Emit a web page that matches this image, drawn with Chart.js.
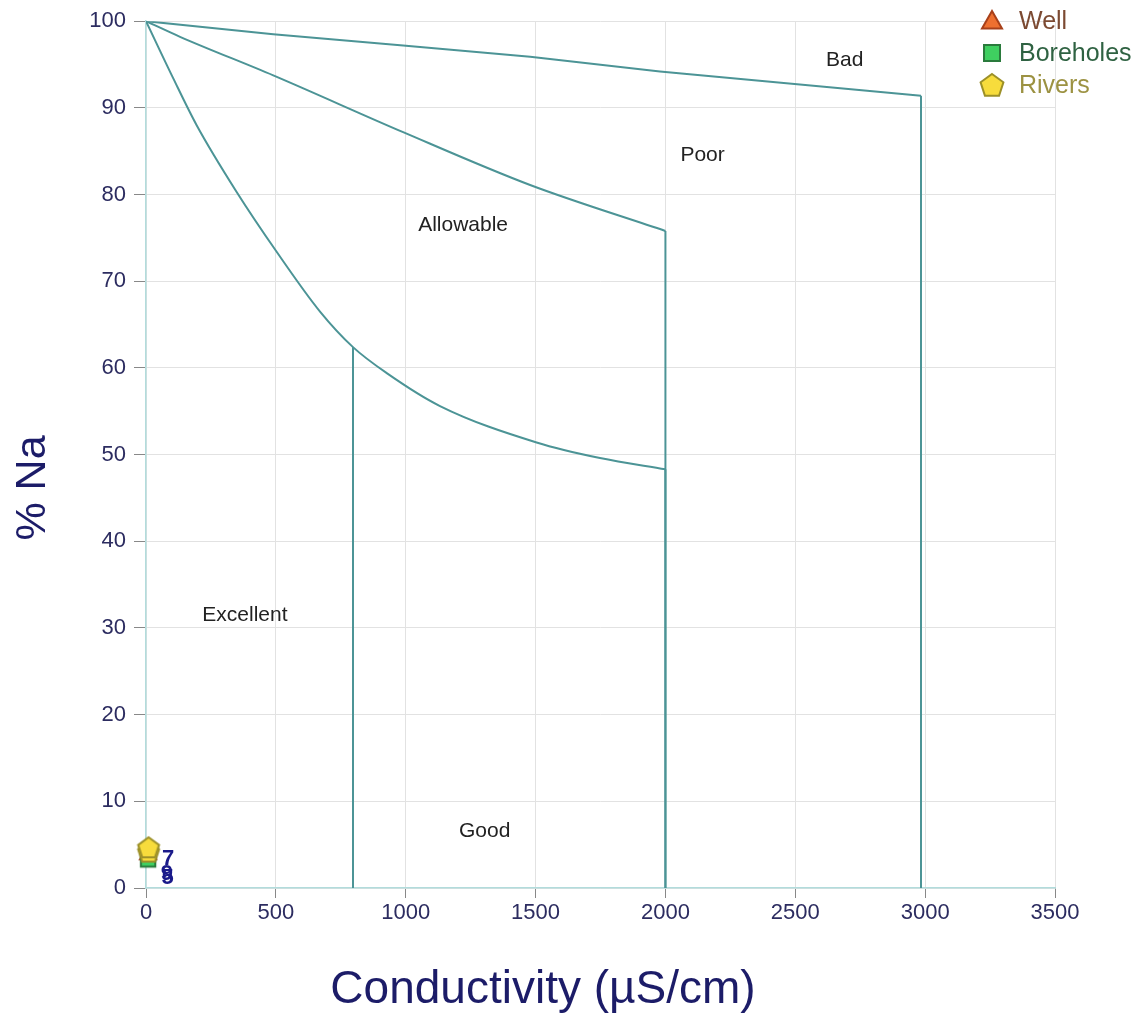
<!DOCTYPE html>
<html><head><meta charset="utf-8">
<script src="https://cdn.jsdelivr.net/npm/chart.js@4.4.1/dist/chart.umd.min.js"></script>
<style>html,body{margin:0;padding:0;background:#fff}#wrap{width:1146px;height:1017px}</style>
</head><body><div id="wrap"><canvas id="c" width="1146" height="1017"></canvas></div>
<script>
// Boundary curves (Conductivity µS/cm vs %Na)
const badX   = [0, 490, 990, 1479, 1979, 2984];
const badY   = [100, 98.5, 97.2, 95.9, 94.2, 91.4];
const poorX  = [0, 131, 490, 990, 1479, 2000];
const poorY  = [100, 98.2, 93.75, 87.2, 81.1, 75.8];
const allowX = [0, 105, 195, 349, 503, 670, 797, 927, 1132, 1504, 1748, 2000];
const allowY = [100, 93.4, 88.0, 80.3, 73.4, 66.5, 62.4, 59.4, 55.6, 51.4, 49.6, 48.3];
const goodX  = [797, 797];
const goodY  = [62.4, 0];
// Samples
const wellX = [8];       const wellY = [4.0];
const boreX = [8];       const boreY = [3.3];
const riverX = [10, 10]; const riverY = [4.2, 4.7];
const sampleLabels = ['7', '9', '5'];
const sampleLabelX = [85, 80, 83];
const sampleLabelY = [3.3, 1.6, 1.2];
// Zone names
const zoneNames = ['Bad', 'Poor', 'Allowable', 'Excellent', 'Good'];
const zoneX = [2690, 2143, 1221, 381, 1304];
const zoneY = [95.5, 84.5, 76.5, 31.5, 6.6];
// Ticks
const xTicks = [0, 500, 1000, 1500, 2000, 2500, 3000, 3500];
const yTicks = [0, 10, 20, 30, 40, 50, 60, 70, 80, 90, 100];
const seriesNames = ['Well', 'Boreholes', 'Rivers'];
const xTitle = 'Conductivity (µS/cm)';
const yTitle = '% Na';

const pts = (xs, ys) => xs.map((x, i) => ({x, y: ys[i]}));
const LINE = '#4c9496';
const FONT = '"Liberation Sans", Arial, sans-serif';

function makeMarker(kind, size, fill, stroke) {
  const c = document.createElement('canvas');
  c.width = size + 4; c.height = size + 4;
  const g = c.getContext('2d');
  const cx = c.width / 2, cy = c.height / 2, r = size / 2;
  g.beginPath();
  if (kind === 'pent') {
    for (let i = 0; i < 5; i++) {
      const a = -Math.PI / 2 + i * 2 * Math.PI / 5;
      const px = cx + r * Math.cos(a), py = cy + r * Math.sin(a) + 1;
      i ? g.lineTo(px, py) : g.moveTo(px, py);
    }
  } else if (kind === 'tri') {
    g.moveTo(cx, cy - r); g.lineTo(cx + r, cy + r * 0.75); g.lineTo(cx - r, cy + r * 0.75);
  } else {
    g.rect(cx - r * 0.8, cy - r * 0.8, r * 1.6, r * 1.6);
  }
  g.closePath();
  g.fillStyle = fill; g.fill();
  g.lineWidth = 2; g.strokeStyle = stroke; g.stroke();
  return c;
}
const mWell = makeMarker('tri', 20, '#ee7030', '#a8401a');
const mBore = makeMarker('sq', 20, '#3fcf60', '#2a7a3c');
const mRiver = makeMarker('pent', 24, '#f7dc3c', '#9c9028');
const sWell = makeMarker('tri', 16, '#ee7030', '#a8401a');
const sBore = makeMarker('sq', 18, '#3fcf60', '#2a7a3c');
const sRiver = makeMarker('pent', 22, '#f7dc3c', '#9c9028');
const legendMarkers = [mWell, mBore, mRiver];
const legendColors = ['#7c4a32', '#2f6242', '#9c9242'];

const lineDs = (data, extra) => Object.assign({type: 'scatter', data, showLine: true, borderColor: LINE, borderWidth: 2, pointRadius: 0, pointHoverRadius: 0, fill: false, order: 5}, extra || {});

const overlay = {
  id: 'overlay',
  afterDatasetsDraw(chart) {
    const {ctx, scales: {x, y}} = chart;
    ctx.save();
    ctx.fillStyle = '#222';
    ctx.font = '21px ' + FONT;
    ctx.textAlign = 'center'; ctx.textBaseline = 'middle';
    zoneNames.forEach((t, i) => ctx.fillText(t, x.getPixelForValue(zoneX[i]), y.getPixelForValue(zoneY[i])));
    ctx.fillStyle = '#1a1a8a';
    ctx.font = 'bold 22px ' + FONT;
    sampleLabels.forEach((t, i) => ctx.fillText(t, x.getPixelForValue(sampleLabelX[i]), y.getPixelForValue(sampleLabelY[i])));
    // legend
    ctx.textAlign = 'left';
    ctx.font = '25px ' + FONT;
    const rows = [21, 53, 85];
    seriesNames.forEach((t, i) => {
      const cy = rows[i];
      const m = legendMarkers[i];
      ctx.drawImage(m, 992 - m.width / 2, cy - m.height / 2);
      ctx.fillStyle = legendColors[i];
      ctx.fillText(t, 1019, cy + 1);
    });
    // axis titles
    ctx.fillStyle = '#1c1c68';
    ctx.font = '46px ' + FONT;
    ctx.textAlign = 'center';
    ctx.fillText(xTitle, 543, 990);
    ctx.translate(33, 488);
    ctx.rotate(-Math.PI / 2);
    ctx.font = '43px ' + FONT;
    ctx.fillText(yTitle, 0, 0);
    ctx.restore();
  }
};

new Chart(document.getElementById('c'), {
  type: 'scatter',
  data: {
    datasets: [
      lineDs(pts(badX, badY)),
      lineDs([{x: badX[badX.length - 1], y: badY[badY.length - 1]}, {x: badX[badX.length - 1], y: 0}]),
      lineDs(pts(poorX, poorY), {cubicInterpolationMode: 'monotone'}),
      lineDs([{x: poorX[poorX.length - 1], y: poorY[poorY.length - 1]}, {x: poorX[poorX.length - 1], y: 0}]),
      lineDs(pts(allowX, allowY), {cubicInterpolationMode: 'monotone'}),
      lineDs([{x: allowX[allowX.length - 1], y: allowY[allowY.length - 1]}, {x: allowX[allowX.length - 1], y: 0}]),
      lineDs(pts(goodX, goodY)),
      {label: seriesNames[0], data: pts(wellX, wellY), pointStyle: sWell, pointRadius: 8, clip: false, order: 3},
      {label: seriesNames[1], data: pts(boreX, boreY), pointStyle: sBore, pointRadius: 9, clip: false, order: 2},
      {label: seriesNames[2], data: pts(riverX, riverY), pointStyle: sRiver, pointRadius: 11, clip: false, order: 1}
    ]
  },
  options: {
    responsive: false,
    animation: false,
    layout: {padding: {top: 17, right: 91, left: 0, bottom: 0}},
    plugins: {legend: {display: false}, tooltip: {enabled: false}},
    scales: {
      x: {
        type: 'linear', min: 0, max: 3500,
        afterBuildTicks: s => { s.ticks = xTicks.map(v => ({value: v})); },
        afterFit: s => { s.height = 129; },
        grid: {color: '#e2e2e2', tickColor: '#888', tickLength: 10, lineWidth: 1},
        border: {color: '#b2dcdc', width: 1.5},
        ticks: {color: '#2c2c60', padding: 2, callback: v => String(v), font: {size: 22, family: FONT}}
      },
      y: {
        type: 'linear', min: 0, max: 100,
        afterBuildTicks: s => { s.ticks = yTicks.map(v => ({value: v})); },
        afterFit: s => { s.width = 146; },
        grid: {color: '#e2e2e2', tickColor: '#888', tickLength: 12, lineWidth: 1},
        border: {color: '#b2dcdc', width: 1.5},
        ticks: {color: '#2c2c60', padding: 8, callback: v => String(v), font: {size: 22, family: FONT}}
      }
    }
  },
  plugins: [overlay]
});
</script></body></html>
